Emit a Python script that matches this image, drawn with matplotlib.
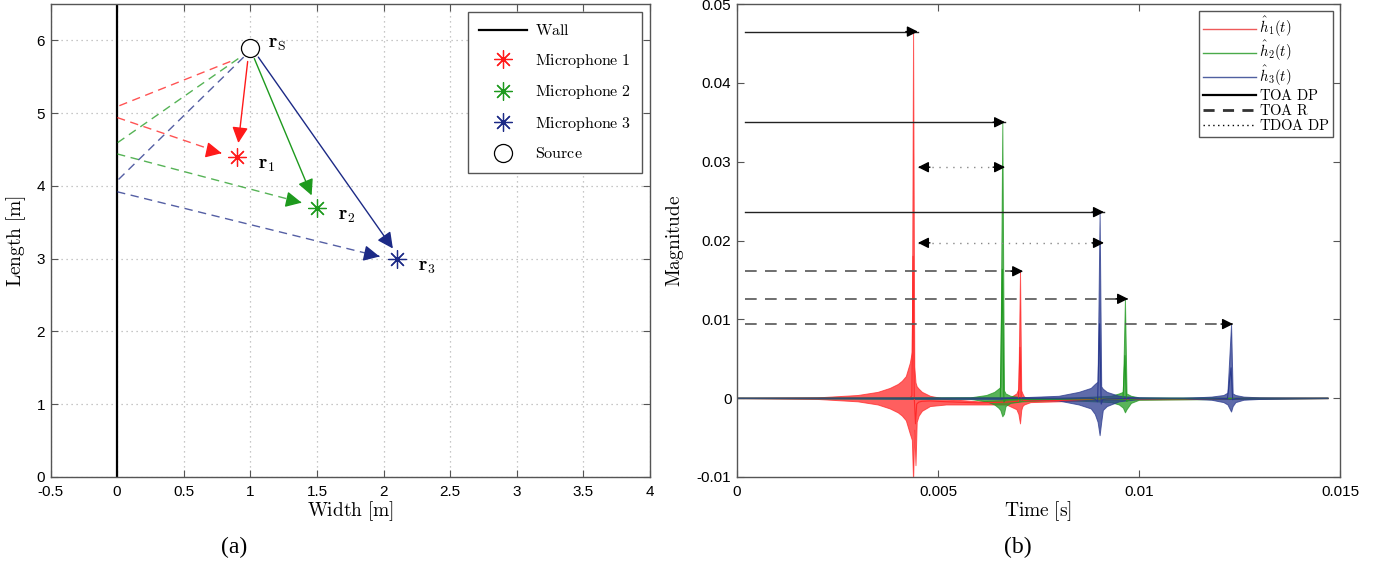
import matplotlib.pyplot as plt
from matplotlib.lines import Line2D

plt.rcParams["mathtext.fontset"] = "cm"
plt.rcParams["font.family"] = ["Liberation Sans", "DejaVu Sans"]

# ---------------- panel (a): room geometry ----------------
source_x, source_y = 1.0, 5.9
mic_labels = [r"$\mathrm{Microphone\ 1}$", r"$\mathrm{Microphone\ 2}$",
              r"$\mathrm{Microphone\ 3}$"]
mic_tags = [r"$\mathbf{r}_1$", r"$\mathbf{r}_2$", r"$\mathbf{r}_3$"]
mic_colors = ["#ff1a1a", "#1e9a1e", "#1c2a86"]
mic_x = [0.9, 1.5, 2.1]
mic_y = [4.4, 3.7, 3.0]

# direct path arrows (start near source, tip near microphone)
direct_x0 = [0.98, 1.03, 1.06]
direct_y0 = [5.71, 5.75, 5.77]
direct_x1 = [0.91, 1.46, 2.07]
direct_y1 = [4.59, 3.87, 3.14]

# reflected path: source -> wall, wall -> microphone
refl_x0 = [0.85, 0.91, 0.95]
refl_y0 = [5.71, 5.75, 5.77]
wall_hit_in = [5.09, 4.59, 4.07]
wall_hit_out = [4.94, 4.44, 3.92]
refl_x1 = [0.785, 1.385, 1.97]
refl_y1 = [4.45, 3.77, 3.03]

# ---------------- panel (b): estimated RIRs ----------------
t_h1 = [0, 0.0020, 0.0030, 0.0035, 0.0038, 0.0040, 0.0041, 0.0042, 0.00430, 0.00435,
        0.00438, 0.00441, 0.00444, 0.00447, 0.00452, 0.0046, 0.0048, 0.0052, 0.0060,
        0.0067, 0.00695, 0.00700, 0.00704, 0.00707, 0.00710, 0.00714, 0.0073, 0.0080,
        0.0090, 0.0147]
up_h1 = [0, 0.0001, 0.0004, 0.0008, 0.0013, 0.0018, 0.0022, 0.0028, 0.0045, 0.0059,
         0.0465, 0.0040, 0.0020, 0.0015, 0.0012, 0.0008, 0.0003, -0.0001, -0.0004,
         -0.0002, 0.0006, 0.0012, 0.0161, 0.0010, 0.0006, 0.0002, -0.0002, -0.0002,
         0.0000, 0]
lo_h1 = [0, -0.0001, -0.0004, -0.0008, -0.0013, -0.0018, -0.0022, -0.0028, -0.0045,
         -0.0053, -0.0105, -0.0040, -0.0085, -0.0030, -0.0022, -0.0016, -0.0010,
         -0.0008, -0.0008, -0.0008, -0.0014, -0.0020, -0.0032, -0.0015, -0.0010,
         -0.0008, -0.0005, -0.0004, -0.0002, 0]

t_h2 = [0, 0.0058, 0.0062, 0.0064, 0.0065, 0.00655, 0.00660, 0.00664, 0.00668, 0.0068,
        0.0071, 0.0080, 0.0093, 0.0095, 0.0096, 0.00965, 0.00969, 0.0098, 0.0100, 0.0147]
up_h2 = [0, 0.0001, 0.0004, 0.0008, 0.0012, 0.0014, 0.0350, 0.0010, 0.0006, 0.0003,
         0.0001, 0.0000, 0.0003, 0.0006, 0.0008, 0.0126, 0.0006, 0.0003, 0.0001, 0]
lo_h2 = [0, -0.0001, -0.0004, -0.0008, -0.0012, -0.0015, -0.0023, -0.0020, -0.0010,
         -0.0006, -0.0004, -0.0002, -0.0005, -0.0008, -0.0012, -0.0018, -0.0014,
         -0.0006, -0.0002, 0]

t_h3 = [0, 0.0070, 0.0080, 0.0085, 0.0088, 0.0089, 0.00897, 0.00902, 0.00906, 0.0091,
        0.0092, 0.0095, 0.0100, 0.0110, 0.0118, 0.0121, 0.0122, 0.01229, 0.01233, 0.0124,
        0.0126, 0.0130, 0.0147]
up_h3 = [0, 0.0001, 0.0003, 0.0008, 0.0013, 0.0018, 0.0021, 0.0236, 0.0015, 0.0012,
         0.0008, 0.0003, 0.0001, 0, 0.0002, 0.0004, 0.0007, 0.0094, 0.0006, 0.0004,
         0.0002, 0.0001, 0]
lo_h3 = [0, -0.0001, -0.0003, -0.0008, -0.0013, -0.0020, -0.0030, -0.0047, -0.0030,
         -0.0015, -0.0010, -0.0004, -0.0001, 0, -0.0002, -0.0005, -0.0008, -0.0017,
         -0.0010, -0.0005, -0.0002, -0.0001, 0]

rir_t = [t_h1, t_h2, t_h3]
rir_up = [up_h1, up_h2, up_h3]
rir_lo = [lo_h1, lo_h2, lo_h3]
rir_labels = [r"$\hat{h}_1(t)$", r"$\hat{h}_2(t)$", r"$\hat{h}_3(t)$"]
rir_colors = ["#ff2a2a", "#229a22", "#2a3a8e"]
rir_legend_colors = ["#ee5a5a", "#4aaa4a", "#5060a0"]

arrow_t0 = 0.0002
toa_dp = [0.0045, 0.00667, 0.00913]
toa_dp_level = [0.0465, 0.0350, 0.0236]
toa_r = [0.00712, 0.00973, 0.01234]
toa_r_level = [0.0161, 0.0126, 0.0094]
tdoa_level = [0.0293, 0.0197]

x_ticks_b = [0, 0.005, 0.01, 0.015]
x_ticklabels_b = ["0", "0.005", "0.01", "0.015"]
y_ticks_b = [-0.01, 0, 0.01, 0.02, 0.03, 0.04, 0.05]
y_ticklabels_b = ["-0.01", "0", "0.01", "0.02", "0.03", "0.04", "0.05"]

W, H = 1382, 565
fig = plt.figure(figsize=(W / 100, H / 100), dpi=100)
ax1 = fig.add_axes([50.5 / W, 88 / H, 599.5 / W, 473 / H])
ax2 = fig.add_axes([737 / W, 88 / H, 603 / W, 473 / H])

spine_col = "#555555"
for ax in (ax1, ax2):
    for s in ax.spines.values():
        s.set_color(spine_col)
        s.set_linewidth(1.0)
    ax.tick_params(direction="in", top=True, right=True, length=5,
                   color=spine_col, labelsize=11, pad=4)
    ax.tick_params(axis="x", pad=6)


def arrow(ax, x0, y0, x1, y1, color, ls="-", scale=16, lw=1.0):
    ax.annotate("", xy=(x1, y1), xytext=(x0, y0),
                arrowprops=dict(arrowstyle="-|>", color=color, lw=lw, ls=ls,
                                mutation_scale=scale, shrinkA=0, shrinkB=0))


# ---- panel (a)
ax1.set_xlim(-0.5, 4)
ax1.set_ylim(0, 6.5)
ax1.set_xticks([-0.5, 0, 0.5, 1, 1.5, 2, 2.5, 3, 3.5, 4])
ax1.set_xticklabels(["-0.5", "0", "0.5", "1", "1.5", "2", "2.5", "3", "3.5", "4"])
ax1.set_yticks([0, 1, 2, 3, 4, 5, 6])
ax1.grid(True, color="#b5b5b5", linestyle=(0, (1, 3)), linewidth=0.9)

ax1.axvline(0, color="black", lw=1.6, label=r"$\mathrm{Wall}$")

for i in range(3):
    c = mic_colors[i]
    ax1.plot([refl_x0[i], 0], [refl_y0[i], wall_hit_in[i]], color=c, lw=1.0,
             dashes=(6, 4), alpha=0.75)
    ax1.plot([0, refl_x1[i]], [wall_hit_out[i], refl_y1[i]], color=c, lw=1.0,
             dashes=(6, 4), alpha=0.75)
    arrow(ax1, refl_x1[i] - 0.01, refl_y1[i] + 0.004, refl_x1[i], refl_y1[i], c, scale=24)
    arrow(ax1, direct_x0[i], direct_y0[i], direct_x1[i], direct_y1[i], c, scale=24)

for i in range(3):
    ax1.plot(mic_x[i], mic_y[i], linestyle="none", marker=(8, 2, 0), markersize=13,
             markeredgewidth=0.9, color=mic_colors[i], label=mic_labels[i])
    ax1.annotate(mic_tags[i], (mic_x[i], mic_y[i]), xytext=(15, -6),
                 textcoords="offset points", fontsize=14, ha="left", va="center")

ax1.plot(source_x, source_y, linestyle="none", marker="o", markersize=13,
         markerfacecolor="white", markeredgecolor="black", markeredgewidth=0.9,
         label=r"$\mathrm{Source}$")
ax1.annotate(r"$\mathbf{r}_\mathrm{S}$", (source_x, source_y), xytext=(13, 2),
             textcoords="offset points", fontsize=14, ha="left", va="center")

ax1.set_xlabel(r"$\mathrm{Width\ [m]}$", fontsize=14, labelpad=0)
ax1.set_ylabel(r"$\mathrm{Length\ [m]}$", fontsize=14, labelpad=6)

leg1 = ax1.legend(loc="upper right", fontsize=11.5, labelspacing=0.85,
                  handlelength=3.0, handletextpad=0.5, borderpad=0.7,
                  borderaxespad=0.5, fancybox=False, edgecolor="#555555",
                  framealpha=1)
leg1.get_frame().set_linewidth(1.0)

# ---- panel (b)
ax2.set_xlim(0, 0.015)
ax2.set_ylim(-0.01, 0.05)
ax2.set_xticks(x_ticks_b)
ax2.set_xticklabels(x_ticklabels_b)
ax2.set_yticks(y_ticks_b)
ax2.set_yticklabels(y_ticklabels_b)

for i in range(3):
    c = rir_colors[i]
    ax2.fill_between(rir_t[i], rir_lo[i], rir_up[i], facecolor=c, edgecolor=c,
                     linewidth=0.7, alpha=0.75)
    ax2.plot(rir_t[i], [(a + b) / 2 for a, b in zip(rir_up[i], rir_lo[i])],
             color=c, lw=0.8)

for i in range(3):
    ax2.plot([arrow_t0, toa_dp[i]], [toa_dp_level[i]] * 2, color="#222222", lw=1.0)
    arrow(ax2, toa_dp[i] - 0.0003, toa_dp_level[i], toa_dp[i], toa_dp_level[i],
          "black", scale=16)
    ax2.plot([arrow_t0, toa_r[i]], [toa_r_level[i]] * 2, color="#555555", lw=1.2,
             dashes=(7, 5))
    arrow(ax2, toa_r[i] - 0.0003, toa_r_level[i], toa_r[i], toa_r_level[i],
          "black", scale=16)

for j in range(2):
    ax2.plot([toa_dp[0], toa_dp[j + 1]], [tdoa_level[j]] * 2, color="#888888",
             lw=1.0, linestyle=(0, (1, 4)))
    arrow(ax2, toa_dp[0] + 0.0003, tdoa_level[j], toa_dp[0], tdoa_level[j],
          "black", scale=16)
    arrow(ax2, toa_dp[j + 1] - 0.0003, tdoa_level[j], toa_dp[j + 1], tdoa_level[j],
          "black", scale=16)

ax2.set_xlabel(r"$\mathrm{Time\ [s]}$", fontsize=14, labelpad=0)
ax2.set_ylabel(r"$\mathrm{Magnitude}$", fontsize=14, labelpad=8)

handles = [Line2D([], [], color=c, lw=1.0) for c in rir_legend_colors]
handles += [Line2D([], [], color="black", lw=1.6),
            Line2D([], [], color="#333333", lw=2.0, dashes=(4, 3)),
            Line2D([], [], color="black", lw=1.0, linestyle=(0, (1, 2.5)))]
labels = rir_labels + [r"$\mathrm{TOA\ DP}$", r"$\mathrm{TOA\ R}$", r"$\mathrm{TDOA\ DP}$"]
leg2 = ax2.legend(handles, labels, loc="upper right", fontsize=10.5,
                  labelspacing=0.0, handlelength=3.6, handletextpad=0.2,
                  handleheight=0.5, borderpad=0.3, borderaxespad=0.45,
                  fancybox=False, edgecolor="#555555", framealpha=1)
leg2.get_frame().set_linewidth(1.0)

fig.text(234 / W, 1 - 547 / H, "(a)", fontsize=17, family="Liberation Serif",
         ha="center", va="center")
fig.text(1018 / W, 1 - 547 / H, "(b)", fontsize=17, family="Liberation Serif",
         ha="center", va="center")

fig.savefig("out.png", dpi=100)
